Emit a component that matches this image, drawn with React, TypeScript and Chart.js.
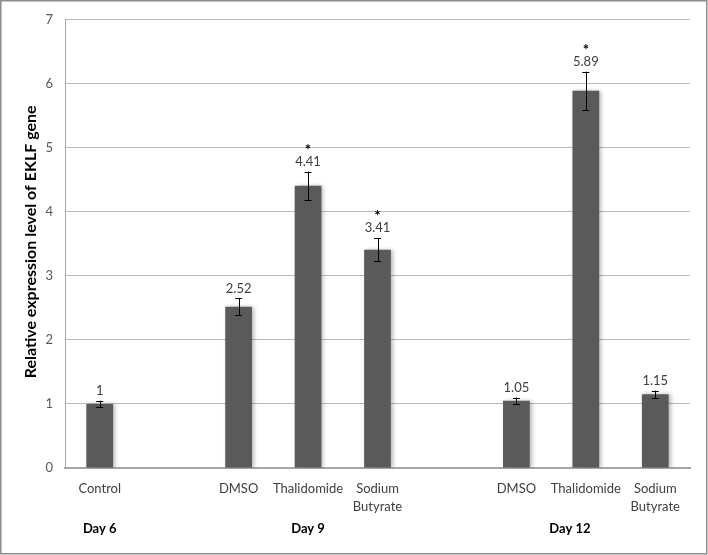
import React, { useEffect, useRef } from 'react';
import { Chart, registerables } from 'chart.js';

Chart.register(...registerables);

const categories: (string | string[])[] = [
  'Control', '', 'DMSO', 'Thalidomide', ['Sodium', 'Butyrate'], '', 'DMSO', 'Thalidomide', ['Sodium', 'Butyrate'],
];
const values: (number | null)[] = [1, null, 2.52, 4.41, 3.41, null, 1.05, 5.89, 1.15];
const errors: (number | null)[] = [0.05, null, 0.13, 0.22, 0.18, null, 0.05, 0.3, 0.06];
const valueLabels = ['1', '', '2.52', '4.41', '3.41', '', '1.05', '5.89', '1.15'];
const significant = [false, false, false, true, true, false, false, true, false];
const groupLabels = ['Day 6', 'Day 9', 'Day 12'];
const groupPositions = [0, 3, 6.77];
const yTitle = 'Relative expression level of EKLF gene';
const yMin = 0;
const yMax = 7;
const yStep = 1;

const FONT = 'Lato, "Open Sans", sans-serif';

const shadowPlugin = {
  id: 'barShadow',
  beforeDatasetsDraw(chart: any) {
    const ctx = chart.ctx;
    ctx.save();
    ctx.shadowColor = 'rgba(0,0,0,0.28)';
    ctx.shadowBlur = 4;
    ctx.shadowOffsetX = 2;
    ctx.shadowOffsetY = 0;
  },
  afterDatasetsDraw(chart: any) {
    chart.ctx.restore();
  },
};

const annotPlugin = {
  id: 'annot',
  afterDatasetsDraw(chart: any) {
    const ctx = chart.ctx;
    const meta = chart.getDatasetMeta(0);
    const ys = chart.scales.y;
    ctx.save();
    values.forEach((v, i) => {
      if (v == null) return;
      const e = errors[i] || 0;
      const x = meta.data[i].x;
      const yTop = ys.getPixelForValue(v + e);
      const yBot = ys.getPixelForValue(v - e);
      ctx.strokeStyle = '#000';
      ctx.lineWidth = 1;
      ctx.beginPath();
      ctx.moveTo(Math.round(x) + 0.5, yTop);
      ctx.lineTo(Math.round(x) + 0.5, yBot);
      ctx.moveTo(x - 3.5, Math.round(yTop) + 0.5);
      ctx.lineTo(x + 3.5, Math.round(yTop) + 0.5);
      ctx.moveTo(x - 3.5, Math.round(yBot) + 0.5);
      ctx.lineTo(x + 3.5, Math.round(yBot) + 0.5);
      ctx.stroke();
      const labelY = yTop - 10;
      ctx.fillStyle = '#404040';
      ctx.font = `13px ${FONT}`;
      ctx.textAlign = 'center';
      ctx.textBaseline = 'middle';
      ctx.fillText(valueLabels[i], x, labelY);
      if (significant[i]) {
        ctx.fillStyle = '#000';
        ctx.font = `bold 15px ${FONT}`;
        ctx.textBaseline = 'alphabetic';
        ctx.fillText('*', x, labelY - 7);
      }
    });
    ctx.restore();
  },
  afterDraw(chart: any) {
    const ctx = chart.ctx;
    const xs = chart.scales.x;
    const area = chart.chartArea;
    ctx.save();
    ctx.fillStyle = '#000';
    ctx.font = `bold 13px ${FONT}`;
    ctx.textAlign = 'center';
    ctx.textBaseline = 'middle';
    groupLabels.forEach((g, i) => {
      ctx.fillText(g, xs.getPixelForValue(groupPositions[i]), 529);
    });
    ctx.translate(31, (area.top + area.bottom) / 2 - 2);
    ctx.rotate(-Math.PI / 2);
    ctx.font = `bold 16px ${FONT}`;
    ctx.fillText(yTitle, 0, 0);
    ctx.restore();
    ctx.save();
    ctx.strokeStyle = '#8c8c8c';
    ctx.lineWidth = 1.5;
    ctx.strokeRect(0.75, 0.75, chart.width - 2, chart.height - 2);
    ctx.restore();
  },
};

export default function App() {
  const ref = useRef<HTMLCanvasElement>(null);
  useEffect(() => {
    document.body.style.margin = '0';
    const chart = new Chart(ref.current!, {
      type: 'bar',
      data: {
        labels: categories as any,
        datasets: [
          {
            data: values as any,
            backgroundColor: '#5a5a5a',
            borderWidth: 0,
            barPercentage: 0.385,
            categoryPercentage: 1,
          },
        ],
      },
      options: {
        animation: false,
        responsive: false,
        devicePixelRatio: 1,
        layout: { padding: { top: 17, right: 18, left: 0, bottom: 0 } },
        plugins: { legend: { display: false }, tooltip: { enabled: false } },
        scales: {
          x: {
            grid: { display: false, drawTicks: false },
            border: { color: '#a6a6a6', width: 2 },
            ticks: {
              color: '#404040',
              font: { family: FONT, size: 13, lineHeight: 1.35 },
              padding: 12,
              maxRotation: 0,
              autoSkip: false,
            },
            afterFit(scale: any) {
              scale.height = 87;
            },
          },
          y: {
            min: yMin,
            max: yMax,
            grid: { color: '#b8b8b8', drawTicks: false },
            border: { color: '#a6a6a6', width: 1 },
            ticks: {
              stepSize: yStep,
              color: '#595959',
              font: { family: FONT, size: 13 },
              padding: 12,
            },
            afterFit(scale: any) {
              scale.width = 65;
            },
          },
        },
      },
      plugins: [shadowPlugin, annotPlugin],
    });
    return () => chart.destroy();
  }, []);
  return (
    <div style={{ position: 'absolute', left: 0, top: 0, width: 708, height: 555, background: '#fff' }}>
      <canvas ref={ref} width={708} height={555} style={{ width: 708, height: 555, display: 'block' }} />
    </div>
  );
}
